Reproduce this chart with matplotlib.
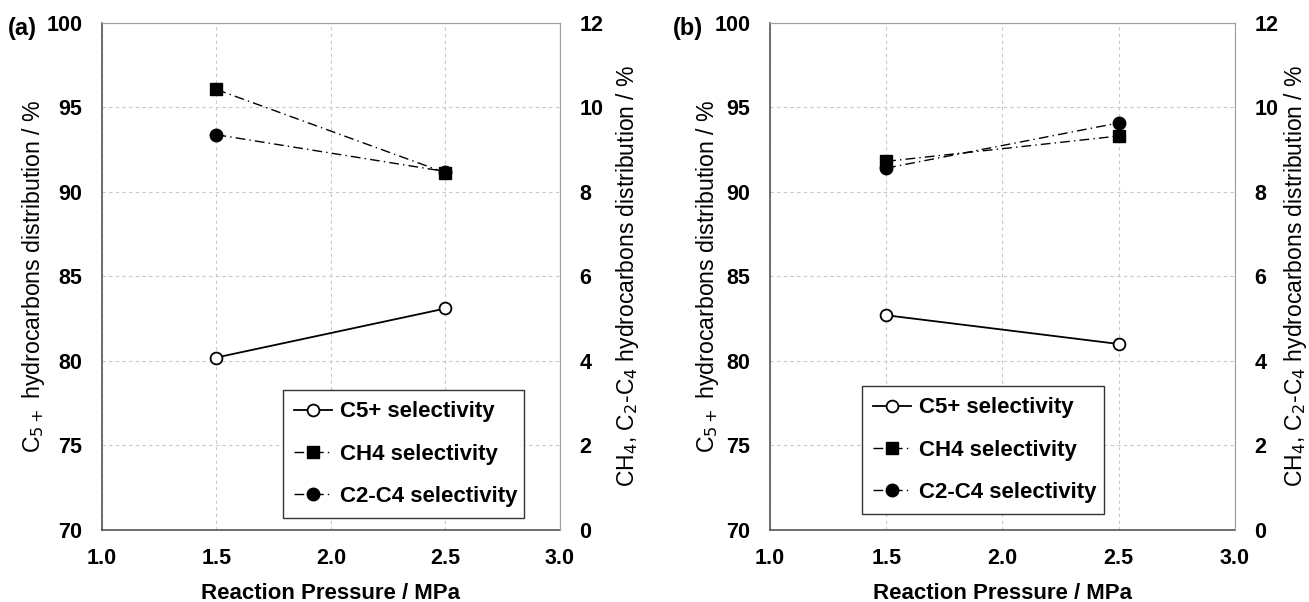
import numpy as np
import matplotlib.pyplot as plt

plt.rcParams['font.family'] = ['Liberation Sans', 'DejaVu Sans']

pressure = [1.5, 2.5]
# panel (a)
c5_a = [80.2, 83.1]
ch4_a = [10.42, 8.45]
c2c4_a = [9.35, 8.48]
# panel (b)
c5_b = [82.7, 81.0]
ch4_b = [8.72, 9.32]
c2c4_b = [8.56, 9.63]

x_ticks = [1.0, 1.5, 2.0, 2.5, 3.0]
left_ticks = [70, 75, 80, 85, 90, 95, 100]
right_ticks = [0, 2, 4, 6, 8, 10, 12]

fig = plt.figure(figsize=(13.09, 6.02), dpi=100)


def panel(rect, tag, c5, ch4, c2c4, leg_box, ylab_x, tag_x):
    ax = fig.add_axes(rect)
    ax2 = ax.twinx()
    ax.set_xlim(1.0, 3.0)
    ax.set_ylim(70, 100)
    ax2.set_ylim(0, 12)
    ax.set_xticks(x_ticks)
    ax.set_xticklabels(['%.1f' % v for v in x_ticks])
    ax.set_yticks(left_ticks)
    ax2.set_yticks(right_ticks)
    ax.tick_params(axis='x', length=0, pad=13)
    ax.tick_params(axis='y', length=0, pad=14)
    ax2.tick_params(axis='y', length=0, pad=14)
    for a in (ax, ax2):
        for lab in a.get_xticklabels() + a.get_yticklabels():
            lab.set_fontweight('bold')
            lab.set_fontsize(15.5)
    ax.grid(True, ls=(0, (3, 3)), color='#c8c8c8', lw=0.8)
    ax.set_axisbelow(True)
    for s in ['left', 'bottom']:
        ax.spines[s].set_color('#555555')
        ax.spines[s].set_linewidth(1.2)
    for s in ['top', 'right']:
        ax.spines[s].set_color('#a0a0a0')
        ax2.spines[s].set_color('#a0a0a0')
    ax2.spines['left'].set_visible(False)
    ax2.spines['bottom'].set_visible(False)

    l1, = ax.plot(pressure, c5, '-', color='black', lw=1.3, marker='o',
                  ms=8.5, mfc='white', mec='black', mew=1.3, label='C5+ selectivity')
    l2, = ax2.plot(pressure, ch4, color='black', lw=1.0, ls=(0, (7, 3, 1, 3)),
                   marker='s', ms=9, label='CH4 selectivity')
    l3, = ax2.plot(pressure, c2c4, color='black', lw=1.0, ls=(0, (7, 3, 1, 3)),
                   marker='o', ms=9, label='C2-C4 selectivity')

    ax.set_xlabel('Reaction Pressure / MPa', fontsize=16, fontweight='bold', labelpad=10)
    ax.set_ylabel('C$_{5+}$ hydrocarbons distribution / %', fontsize=16.7)
    ax2.set_ylabel('CH$_4$, C$_2$-C$_4$ hydrocarbons distribution / %', fontsize=16.5)
    ax.yaxis.set_label_coords(ylab_x[0], 0.5)
    ax2.yaxis.set_label_coords(ylab_x[1], 0.5)

    leg = ax2.legend(handles=[l1, l2, l3], loc='lower left', bbox_to_anchor=leg_box,
                     bbox_transform=ax.transAxes, mode='expand',
                     prop={'weight': 'bold', 'size': 16},
                     handlelength=1.7, handletextpad=0.36, labelspacing=0.95,
                     borderpad=0.5, borderaxespad=0, fancybox=False, framealpha=1,
                     edgecolor='#333333')
    leg.get_frame().set_linewidth(1.0)

    fig.text(tag_x, 0.953, tag, fontsize=17, fontweight='bold', ha='left', va='center')


panel([0.0779, 0.1196, 0.3499, 0.8427], '(a)', c5_a, ch4_a, c2c4_a,
      (0.395, 0.024, 0.526, 0.278), (-0.120, 1.118), 0.006)
panel([0.5882, 0.1196, 0.3552, 0.8427], '(b)', c5_b, ch4_b, c2c4_b,
      (0.198, 0.032, 0.520, 0.278), (-0.105, 1.102), 0.514)

fig.savefig('out.png', dpi=100)
